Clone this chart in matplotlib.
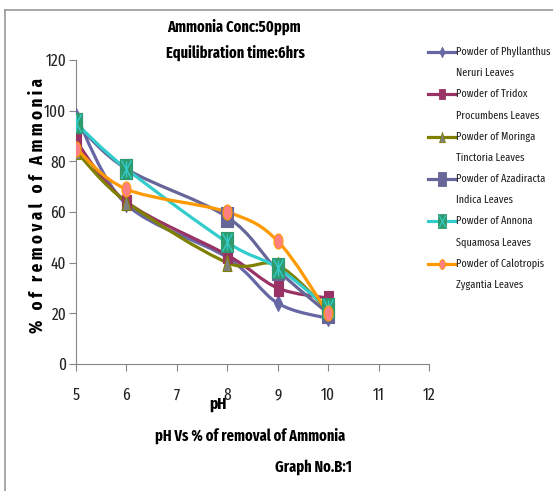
import numpy as np
import matplotlib.pyplot as plt
from matplotlib.path import Path
from matplotlib.patches import PathPatch
from matplotlib.lines import Line2D

plt.rcParams['font.family'] = ['Fira Sans Extra Condensed', 'DejaVu Sans']

ph = [5, 6, 8, 9, 10]
phyllanthus = [98, 63, 42, 24, 18]
tridox = [88, 64, 43, 30, 26]
moringa = [84, 64, 40, 39, 21]
azadiracta = [95, 77, 58, 37, 20]
annona = [95, 77, 48, 38, 22]
calotropis = [85, 69, 60, 48.5, 20]

labels = ['Powder of Phyllanthus\nNeruri Leaves',
          'Powder of Tridox\nProcumbens Leaves',
          'Powder of Moringa\nTinctoria Leaves',
          'Powder of Azadiracta\nIndica Leaves',
          'Powder of Annona\nSquamosa Leaves',
          'Powder of Calotropis\nZygantia Leaves']


def smooth_path(x, y):
    # Excel style smoothed line: cubic bezier through the points
    pts = np.column_stack([np.asarray(x, float), np.asarray(y, float)])
    verts = [pts[0]]
    codes = [Path.MOVETO]
    n = len(pts)
    for i in range(n - 1):
        p0 = pts[i - 1] if i > 0 else pts[i]
        p1, p2 = pts[i], pts[i + 1]
        p3 = pts[i + 2] if i + 2 < n else pts[i + 1]
        verts += [p1 + (p2 - p0) / 6, p2 - (p3 - p1) / 6, p2]
        codes += [Path.CURVE4] * 3
    return Path(verts, codes)


# tall, narrow marker shapes (the source image is squeezed sideways)
rect = Path([(-0.3, -0.5), (0.3, -0.5), (0.3, 0.5), (-0.3, 0.5), (-0.3, -0.5)],
            [1, 2, 2, 2, 79])
diamond = Path([(0, -0.5), (0.25, 0), (0, 0.5), (-0.25, 0), (0, -0.5)], [1, 2, 2, 2, 79])
tri = Path([(-0.28, -0.5), (0.28, -0.5), (0, 0.5), (-0.28, -0.5)], [1, 2, 2, 79])
t = np.linspace(0, 2 * np.pi, 40)
ellipse = Path(np.column_stack([0.3 * np.cos(t), 0.5 * np.sin(t)]))
cross = Path([(-0.22, -0.4), (0.22, 0.4), (0.22, -0.4), (-0.22, 0.4)], [1, 2, 1, 2])
vbar = Path([(0, -0.5), (0, 0.5)], [1, 2])

series = [
    (phyllanthus, '#6767A6', diamond, '#6767A6', '#6767A6', 11.5),
    (tridox, '#993366', rect, '#993366', '#993366', 10.8),
    (moringa, '#808000', tri, '#808080', '#808000', 11.5),
    (azadiracta, '#666699', rect, '#666699', '#666699', 14.5),
    (annona, '#33CCCC', rect, '#2E9A6E', '#2E9A6E', 14.5),
    (calotropis, '#FF9900', ellipse, '#FF8080', '#FF9900', 10.8),
]

fig = plt.figure(figsize=(5.53, 4.91), dpi=100)
ax = fig.add_axes([76 / 553, 1 - 364 / 491, 353 / 553, 304 / 491])

for z, (vals, lc, mk, fc, ec, ms) in enumerate(series):
    ax.add_patch(PathPatch(smooth_path(ph, vals), fill=False, edgecolor=lc,
                           lw=2.3, zorder=2 + z))
    ax.plot(ph, vals, ls='none', marker=mk, ms=ms, mfc=fc, mec=ec, mew=0.8,
            zorder=10 + z)
    if vals is annona:
        ax.plot(ph, vals, ls='none', marker=cross, ms=ms * 0.9, mec='#33CCCC',
                mew=1, zorder=10 + z)
        ax.plot(ph, vals, ls='none', marker=vbar, ms=ms * 0.8, mec='#33CCCC',
                mew=1, zorder=10 + z)

ax.set_xlim(5, 12)
ax.set_ylim(0, 120)
ax.set_xticks(range(5, 13))
ax.set_yticks(range(0, 121, 20))
for s in ['top', 'right']:
    ax.spines[s].set_visible(False)
for s in ['left', 'bottom']:
    ax.spines[s].set_color('#868686')
ax.tick_params(axis='both', direction='out', color='#868686', length=5,
               labelsize=12, labelcolor='#222222')
ax.tick_params(axis='x', pad=12)
ax.tick_params(axis='y', pad=2)

ax.set_ylabel('%   o f   r e m o v a l   o f   A m m o n i a', fontsize=13.2,
              fontweight='bold')
ax.yaxis.set_label_coords(-0.085, 0.52)

fig.text(218 / 553, 1 - 404 / 491, 'pH', fontsize=12, fontweight='bold',
         ha='center', va='center')
fig.text(234 / 553, 1 - 27 / 491, 'Ammonia Conc:50ppm', fontsize=11.3, fontweight='bold',
         ha='center', va='center')
fig.text(235 / 553, 1 - 53 / 491, 'Equilibration time:6hrs', fontsize=11.3,
         fontweight='bold', ha='center', va='center')
fig.text(250 / 553, 1 - 436 / 491, 'pH Vs % of removal of Ammonia', fontsize=11.3,
         fontweight='bold', ha='center', va='center')
fig.text(313 / 553, 1 - 467 / 491, 'Graph No.B:1', fontsize=11.3, fontweight='bold',
         ha='center', va='center')

# legend, drawn by hand: sample line level with the first line of each label
for i, ((vals, lc, mk, fc, ec, ms), lab) in enumerate(zip(series, labels)):
    y = 1 - (52 + 42.3 * i) / 491
    fig.add_artist(Line2D([428 / 553, 455 / 553], [y, y], color=lc, lw=2.3))
    fig.add_artist(Line2D([441.5 / 553], [y], ls='none', marker=mk,
                          ms=ms * 0.65, mfc=fc, mec=ec, mew=0.6))
    if vals is annona:
        fig.add_artist(Line2D([441.5 / 553], [y], ls='none', marker=cross,
                              ms=ms * 0.6, mec='#33CCCC', mew=0.8))
    first, second = lab.split('\n')
    fig.text(456 / 553, y, first, fontsize=8.0, va='center', ha='left', color='#222222')
    fig.text(456 / 553, y - 21.3 / 491, second, fontsize=8.0, va='center', ha='left',
             color='#222222')

fig.add_artist(Line2D([5 / 553, 5 / 553], [0, 1 - 10 / 491], color='#9a9a9a', lw=1.2))
fig.add_artist(Line2D([5 / 553, 1], [1 - 10 / 491, 1 - 10 / 491], color='#9a9a9a', lw=1.2))

fig.savefig('out.png', dpi=100)
